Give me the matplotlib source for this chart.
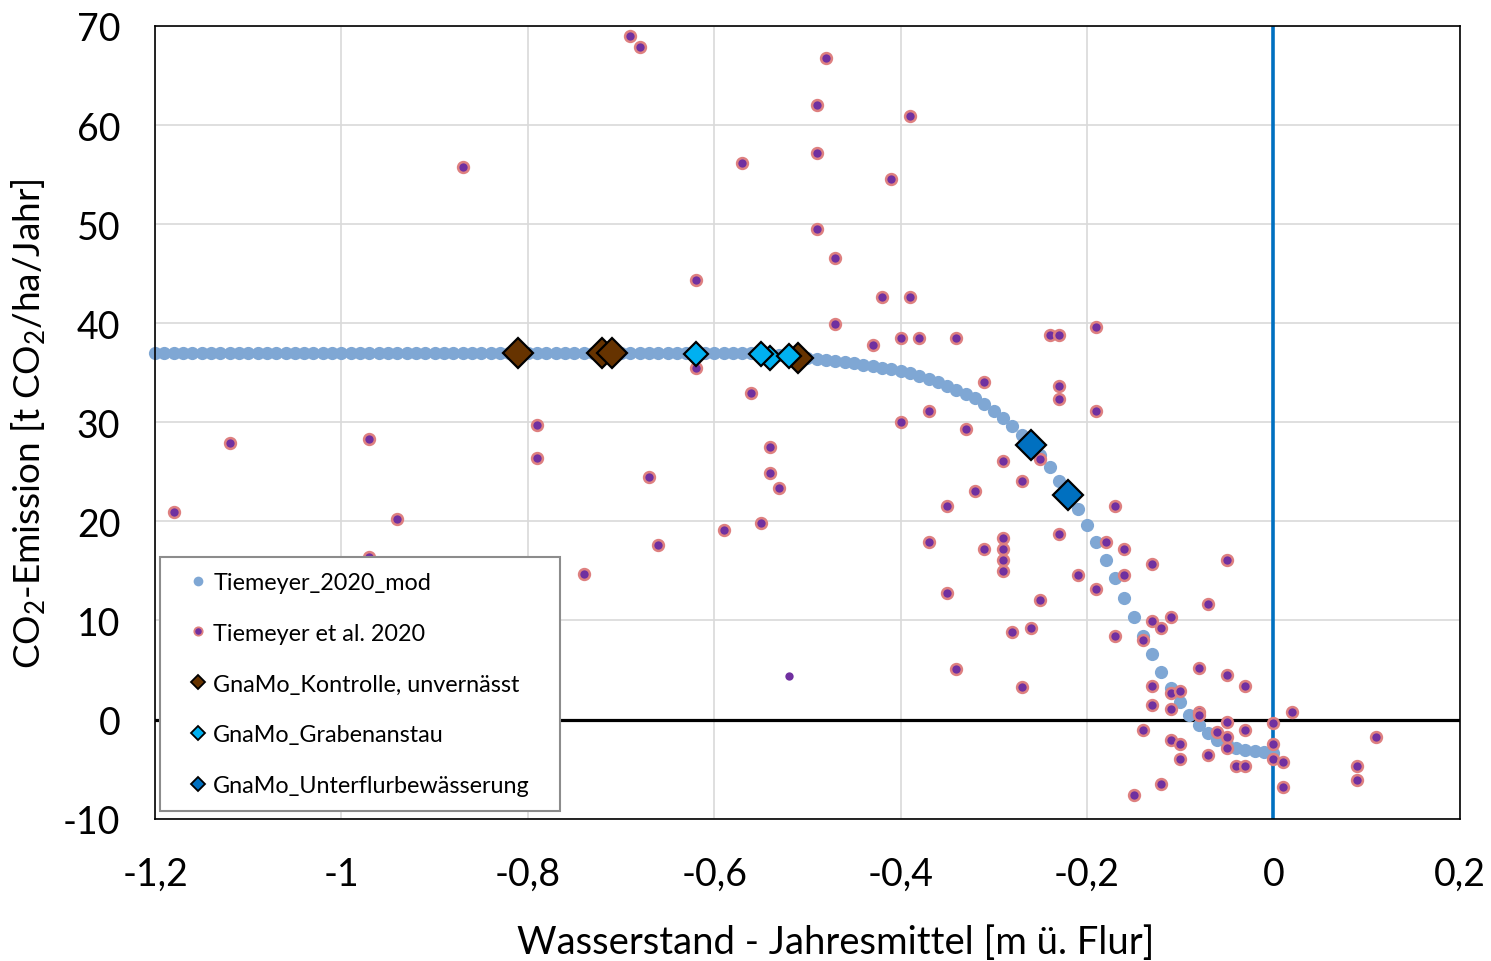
import matplotlib
matplotlib.use("Agg")
import matplotlib.pyplot as plt
import matplotlib.ticker as mticker
from matplotlib.lines import Line2D

# --- DATA ---
# Tiemeyer_2020_mod (model curve, 0.01 m steps)
model_x = [
    -1.20, -1.19, -1.18, -1.17, -1.16, -1.15, -1.14, -1.13, -1.12, -1.11,
    -1.10, -1.09, -1.08, -1.07, -1.06, -1.05, -1.04, -1.03, -1.02, -1.01,
    -1.00, -0.99, -0.98, -0.97, -0.96, -0.95, -0.94, -0.93, -0.92, -0.91,
    -0.90, -0.89, -0.88, -0.87, -0.86, -0.85, -0.84, -0.83, -0.82, -0.81,
    -0.80, -0.79, -0.78, -0.77, -0.76, -0.75, -0.74, -0.73, -0.72, -0.71,
    -0.70, -0.69, -0.68, -0.67, -0.66, -0.65, -0.64, -0.63, -0.62, -0.61,
    -0.60, -0.59, -0.58, -0.57, -0.56, -0.55, -0.54, -0.53, -0.52, -0.51,
    -0.50, -0.49, -0.48, -0.47, -0.46, -0.45, -0.44, -0.43, -0.42, -0.41,
    -0.40, -0.39, -0.38, -0.37, -0.36, -0.35, -0.34, -0.33, -0.32, -0.31,
    -0.30, -0.29, -0.28, -0.27, -0.26, -0.25, -0.24, -0.23, -0.22, -0.21,
    -0.20, -0.19, -0.18, -0.17, -0.16, -0.15, -0.14, -0.13, -0.12, -0.11,
    -0.10, -0.09, -0.08, -0.07, -0.06, -0.05, -0.04, -0.03, -0.02, -0.01,
    0.00,
]
model_y = [
    37.0, 37.0, 37.0, 37.0, 37.0, 37.0, 37.0, 37.0, 37.0, 37.0,
    37.0, 37.0, 37.0, 37.0, 37.0, 37.0, 37.0, 37.0, 37.0, 37.0,
    37.0, 37.0, 37.0, 37.0, 37.0, 37.0, 37.0, 37.0, 37.0, 37.0,
    37.0, 37.0, 37.0, 37.0, 37.0, 37.0, 37.0, 37.0, 37.0, 37.0,
    37.0, 37.0, 37.0, 37.0, 37.0, 37.0, 37.0, 37.0, 37.0, 37.0,
    37.0, 37.0, 37.0, 37.0, 37.0, 37.0, 37.0, 37.0, 37.0, 37.0,
    37.0, 37.0, 37.0, 37.0, 37.0, 36.9, 36.85, 36.8, 36.7, 36.6,
    36.5, 36.4, 36.3, 36.2, 36.1, 35.95, 35.8, 35.65, 35.5, 35.35,
    35.2, 34.95, 34.7, 34.4, 34.1, 33.7, 33.3, 32.9, 32.4, 31.8,
    31.1, 30.4, 29.6, 28.7, 27.7, 26.7, 25.5, 24.1, 22.7, 21.2,
    19.6, 17.9, 16.1, 14.3, 12.3, 10.3, 8.4, 6.6, 4.8, 3.2,
    1.8, 0.5, -0.6, -1.4, -2.1, -2.5, -2.9, -3.1, -3.2, -3.3,
    -3.35,
]

# Tiemeyer et al. 2020 (measured sites)
tiem_x = [
    -1.18, -1.12, -0.97, -0.94, -0.97, -0.87, -0.79, -0.79, -0.74, -0.69,
    -0.68, -0.67, -0.66, -0.62, -0.62, -0.57, -0.56, -0.55, -0.54, -0.54,
    -0.53, -0.59, -0.49, -0.49, -0.49, -0.48, -0.47, -0.47, -0.43, -0.42,
    -0.41, -0.39, -0.39, -0.40, -0.38, -0.40, -0.34, -0.24, -0.23, -0.19,
    -0.31, -0.23, -0.23, -0.19, -0.37, -0.33, -0.25, -0.29, -0.27, -0.32,
    -0.35, -0.17, -0.37, -0.31, -0.29, -0.29, -0.29, -0.29, -0.23, -0.18,
    -0.16, -0.13, -0.21, -0.16, -0.19, -0.35, -0.25, -0.28, -0.26, -0.17,
    -0.34, -0.27, -0.05, -0.07, -0.13, -0.11, -0.12, -0.14, -0.08, -0.05,
    -0.03, -0.13, -0.11, -0.10, -0.13, -0.11, -0.08, -0.08, 0.02, -0.05,
    0.00, -0.14, -0.03, -0.06, -0.05, -0.11, -0.10, 0.00, 0.11, -0.05,
    -0.07, -0.10, 0.00, 0.01, -0.04, -0.03, 0.09, 0.09, -0.12, 0.01,
    -0.15,
]
tiem_y = [
    20.9, 27.9, 28.3, 20.2, 16.4, 55.8, 29.7, 26.4, 14.7, 69.0,
    67.9, 24.5, 17.6, 44.4, 35.5, 56.2, 33.0, 19.8, 27.5, 24.9,
    23.4, 19.1, 62.0, 57.2, 49.5, 66.8, 46.6, 39.9, 37.8, 42.6,
    54.6, 42.6, 60.9, 38.5, 38.5, 30.0, 38.5, 38.8, 38.8, 39.6,
    34.1, 33.7, 32.3, 31.1, 31.1, 29.3, 26.3, 26.1, 24.1, 23.1,
    21.6, 21.6, 17.9, 17.2, 18.3, 17.2, 16.1, 15.0, 18.7, 17.9,
    17.2, 15.7, 14.6, 14.6, 13.2, 12.8, 12.1, 8.8, 9.2, 8.4,
    5.1, 3.3, 16.1, 11.7, 9.9, 10.3, 9.2, 8.0, 5.2, 4.5,
    3.4, 3.4, 2.7, 2.9, 1.5, 1.1, 0.8, 0.5, 0.8, -0.2,
    -0.3, -1.1, -1.1, -1.3, -1.8, -2.1, -2.5, -2.5, -1.8, -2.9,
    -3.6, -4.0, -4.0, -4.3, -4.7, -4.7, -4.7, -6.1, -6.5, -6.8,
    -7.6,
]

# single point without outline
extra_x = [-0.52]
extra_y = [4.4]

# GnaMo variants
kontrolle_x = [-0.81, -0.72, -0.71, -0.51]
kontrolle_y = [37.0, 37.0, 37.0, 36.5]
graben_x = [-0.62, -0.54, -0.55, -0.52]
graben_y = [36.9, 36.5, 36.9, 36.7]
unterflur_x = [-0.26, -0.22]
unterflur_y = [27.7, 22.7]

labels = [
    "Tiemeyer_2020_mod",
    "Tiemeyer et al. 2020",
    "GnaMo_Kontrolle, unvernässt",
    "GnaMo_Grabenanstau",
    "GnaMo_Unterflurbewässerung",
]

x_ticks = [-1.2, -1.0, -0.8, -0.6, -0.4, -0.2, 0.0, 0.2]
y_ticks = [-10, 0, 10, 20, 30, 40, 50, 60, 70]

# --- COLORS ---
C_MODEL = "#7FA7D4"
C_TIEM = "#7030A0"
C_TIEM_EDGE = "#DE8080"
C_BROWN = "#663300"
C_CYAN = "#00B0F0"
C_BLUE = "#0070C0"
C_GRID = "#D9D9D9"

plt.rcParams["font.family"] = ["Lato", "DejaVu Sans"]
plt.rcParams["mathtext.fontset"] = "custom"
plt.rcParams["mathtext.rm"] = "Lato"
plt.rcParams["mathtext.default"] = "regular"

fig = plt.figure(figsize=(14.91, 9.62), dpi=100)
ax = fig.add_axes([0.104, 0.148, 0.875, 0.824])

ax.set_xlim(-1.2, 0.2)
ax.set_ylim(-10, 70)
ax.set_xticks(x_ticks)
ax.set_yticks(y_ticks)
ax.xaxis.set_major_formatter(mticker.FuncFormatter(
    lambda v, p: ("%g" % round(v, 1)).replace(".", ",")))
ax.yaxis.set_major_formatter(mticker.FuncFormatter(lambda v, p: "%d" % v))
ax.tick_params(axis="both", length=0, labelsize=27)
ax.tick_params(axis="x", pad=27)
ax.tick_params(axis="y", pad=25)

ax.grid(True, color=C_GRID, linewidth=1.2, zorder=0)
ax.set_axisbelow(True)
for sp in ax.spines.values():
    sp.set_color("black")
    sp.set_linewidth(1.2)

# zero lines
ax.axhline(0, color="black", linewidth=2.3, zorder=1)
ax.axvline(0, color=C_BLUE, linewidth=2.6, zorder=1)

# series
ax.plot(model_x, model_y, linestyle="none", marker="o", markersize=9.5,
        color=C_MODEL, markeredgewidth=0, zorder=2, clip_on=False)
ax.plot(tiem_x, tiem_y, linestyle="none", marker="o", markersize=7.8,
        markerfacecolor=C_TIEM, markeredgecolor=C_TIEM_EDGE,
        markeredgewidth=1.8, zorder=3)
ax.plot(extra_x, extra_y, linestyle="none", marker="o", markersize=6,
        color=C_TIEM, markeredgewidth=0, zorder=3)
ax.plot(kontrolle_x, kontrolle_y, linestyle="none", marker="D", markersize=15.5,
        markerfacecolor=C_BROWN, markeredgecolor="black",
        markeredgewidth=1.6, zorder=4)
ax.plot(graben_x, graben_y, linestyle="none", marker="D", markersize=12,
        markerfacecolor=C_CYAN, markeredgecolor="black",
        markeredgewidth=1.6, zorder=5)
ax.plot(unterflur_x, unterflur_y, linestyle="none", marker="D", markersize=15.5,
        markerfacecolor=C_BLUE, markeredgecolor="black",
        markeredgewidth=1.6, zorder=6)

# legend with smaller markers
handles = [
    Line2D([], [], linestyle="none", marker="o", markersize=7,
           color=C_MODEL, markeredgewidth=0),
    Line2D([], [], linestyle="none", marker="o", markersize=6,
           markerfacecolor=C_TIEM, markeredgecolor=C_TIEM_EDGE, markeredgewidth=1.3),
    Line2D([], [], linestyle="none", marker="D", markersize=7.5,
           markerfacecolor=C_BROWN, markeredgecolor="black", markeredgewidth=1.3),
    Line2D([], [], linestyle="none", marker="D", markersize=7.5,
           markerfacecolor=C_CYAN, markeredgecolor="black", markeredgewidth=1.3),
    Line2D([], [], linestyle="none", marker="D", markersize=7.5,
           markerfacecolor=C_BLUE, markeredgecolor="black", markeredgewidth=1.3),
]
leg = ax.legend(handles, labels, loc="lower left",
                bbox_to_anchor=(0.004, 0.01, 0.3065, 0), mode="expand",
                fontsize=16.8, frameon=True, fancybox=False, framealpha=1,
                edgecolor="#8C8C8C", borderpad=0.62, handlelength=2.03,
                handletextpad=-0.375, labelspacing=1.28, borderaxespad=0)
leg.get_frame().set_linewidth(1.5)
leg.set_zorder(10)

# axis labels
ax.set_xlabel("Wasserstand - Jahresmittel [m \u00fc. Flur]", fontsize=27.5)
ax.xaxis.set_label_coords(0.522, -0.133)
ax.set_ylabel("CO$_2$-Emission [t CO$_2$/ha/Jahr]", fontsize=26.6)
ax.yaxis.set_label_coords(-0.082, 0.499)

fig.savefig("out.png", dpi=100, facecolor="white")
